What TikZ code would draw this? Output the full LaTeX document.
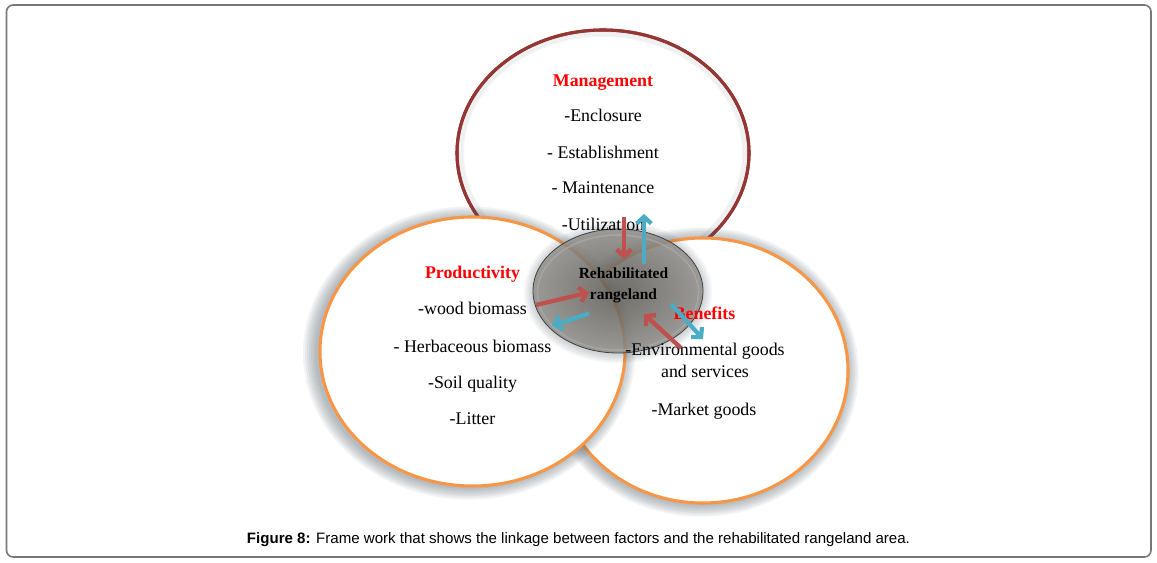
\documentclass[tikz,border=0pt]{standalone}
\usepackage{fontspec}
\setmainfont{Liberation Serif}
\newfontfamily\capfont{Liberation Sans}
\usepackage{xcolor}
\usetikzlibrary{
    arrows.meta,
    calc,
    positioning
}
\definecolor{mgmtred}{HTML}{943634}
\definecolor{ringorange}{HTML}{F79646}
\definecolor{arrred}{HTML}{C0504D}
\definecolor{arrblue}{HTML}{4BACC6}
\definecolor{glowgray}{RGB}{70,85,95}
\definecolor{framegray}{RGB}{120,120,120}
\definecolor{areagray}{RGB}{95,92,85}
\tikzset{
    ring/.style={fill=white, line width=2.3pt},
    factor/.style={anchor=base, font=\fontsize{13.4}{16}\selectfont},
    heading/.style={factor, font=\fontsize{13.4}{16}\selectfont\bfseries, text=red},
    arr/.style={line width=3.2pt, -{Straight Barb[length=5pt, width=11pt]}}
}

\begin{document}
\begin{tikzpicture}[x=0.75pt, y=-0.75pt]
                        \useasboundingbox (0, 0) rectangle (1157, 563);
                        \draw[framegray, line width=1.2pt, rounded corners=5] (6.5, 5) rectangle (1151, 557);

                        % ring: management, with a faint inner shade
                        \draw[ring, draw=mgmtred] (603, 153) ellipse [x radius=146, y radius=123];
                        \foreach \g in {1,...,4}
                            \draw[glowgray, opacity=0.06, line width=1.5pt] (603, 153) ellipse [x radius=146-1.5*\g, y radius=123-1.5*\g];
                        \draw[mgmtred, line width=2.3pt] (603, 153) ellipse [x radius=146, y radius=123];

                        % glow and ring: benefits
                        \foreach \g in {1,...,7}
                            \fill[glowgray, opacity=0.07] (701, 372) ellipse [x radius=145+1.8*\g, y radius=132+1.8*\g];
                        \draw[ring, draw=ringorange] (703, 370.5) ellipse [x radius=145, y radius=132.5];

                        % glow and ring: productivity
                        \foreach \g in {1,...,7}
                            \fill[glowgray, opacity=0.07] (469, 353) ellipse [x radius=152+2*\g, y radius=134+1.8*\g];
                        \draw[ring, draw=ringorange] (472.5, 351.5) ellipse [x radius=152.5, y radius=134.5];

                        % rehabilitated area
                        \foreach \g in {1,...,5}
                            \fill[glowgray, opacity=0.05] (618, 292) ellipse [x radius=85+1.8*\g, y radius=62+1.8*\g];
                        \shade[inner color=areagray!95!black, outer color=areagray!70, opacity=0.82] (618, 291) ellipse [x radius=85, y radius=62];
                        \draw[black!75, line width=0.6pt] (618, 291) ellipse [x radius=85, y radius=62];
                        \draw[white!70!black, line width=1.2pt, opacity=0.5] (618, 292.5) ellipse [x radius=80.5, y radius=57.5];

                        \node[heading] (mgmt) at (603, 86.5) {Management};
                        \node[factor] (encl) at (603, 121.5) {-Enclosure};
                        \node[factor] (estab) at (603, 158.5) {- Establishment};
                        \node[factor] (maint) at (603, 194) {- Maintenance};
                        \node[factor] (util) at (603, 231) {-Utilization};

                        \node[heading] (prod) at (472.5, 278) {Productivity};
                        \node[factor] (wood) at (472.5, 314) {-wood biomass};
                        \node[factor] (herb) at (472.5, 352) {- Herbaceous biomass};
                        \node[factor] (soil) at (472.5, 388) {-Soil quality};
                        \node[factor] (litter) at (472.5, 424) {-Litter};

                        \node[anchor=base, font=\fontsize{11.6}{14}\selectfont\bfseries] (rehab) at (623.5, 278) {Rehabilitated};
                        \node[anchor=base, font=\fontsize{11.6}{14}\selectfont\bfseries] (range) at (623.5, 299) {rangeland};

                        \node[heading] (bene) at (704.5, 319) {Benefits};
                        \node[factor] (env) at (705, 355) {-Environmental goods};
                        \node[factor] (serv) at (705, 377) {and services};
                        \node[factor] (market) at (704, 415) {-Market goods};

                        % linkage arrows
                        \coordinate (mtail) at (624, 217);
                        \coordinate (mhead) at (624, 259);
                        \coordinate (btail) at (644, 264);
                        \coordinate (bhead) at (644, 214);
                        \coordinate (ptail) at (536, 305);
                        \coordinate (phead) at (589, 292.5);
                        \coordinate (qtail) at (589, 313.5);
                        \coordinate (qhead) at (552, 325.5);
                        \coordinate (etail) at (681, 348);
                        \coordinate (ehead) at (644, 314);
                        \coordinate (ftail) at (671, 304);
                        \coordinate (fhead) at (703, 339);
                        \draw[arr, arrred] (mtail) -- (mhead);
                        \draw[arr, arrblue] (btail) -- (bhead);
                        \draw[arr, arrred] (ptail) -- (phead);
                        \draw[arr, arrblue] (qtail) -- (qhead);
                        \draw[arr, arrred] (etail) -- (ehead);
                        \draw[arr, arrblue] (ftail) -- (fhead);

                        \node[anchor=base, font=\capfont\fontsize{11.3}{13}\selectfont] (caption) at (578.5, 543)
                            {\textbf{Figure 8:} Frame work that shows the linkage between factors and the rehabilitated rangeland area.};
                    \end{tikzpicture}
\end{document}
